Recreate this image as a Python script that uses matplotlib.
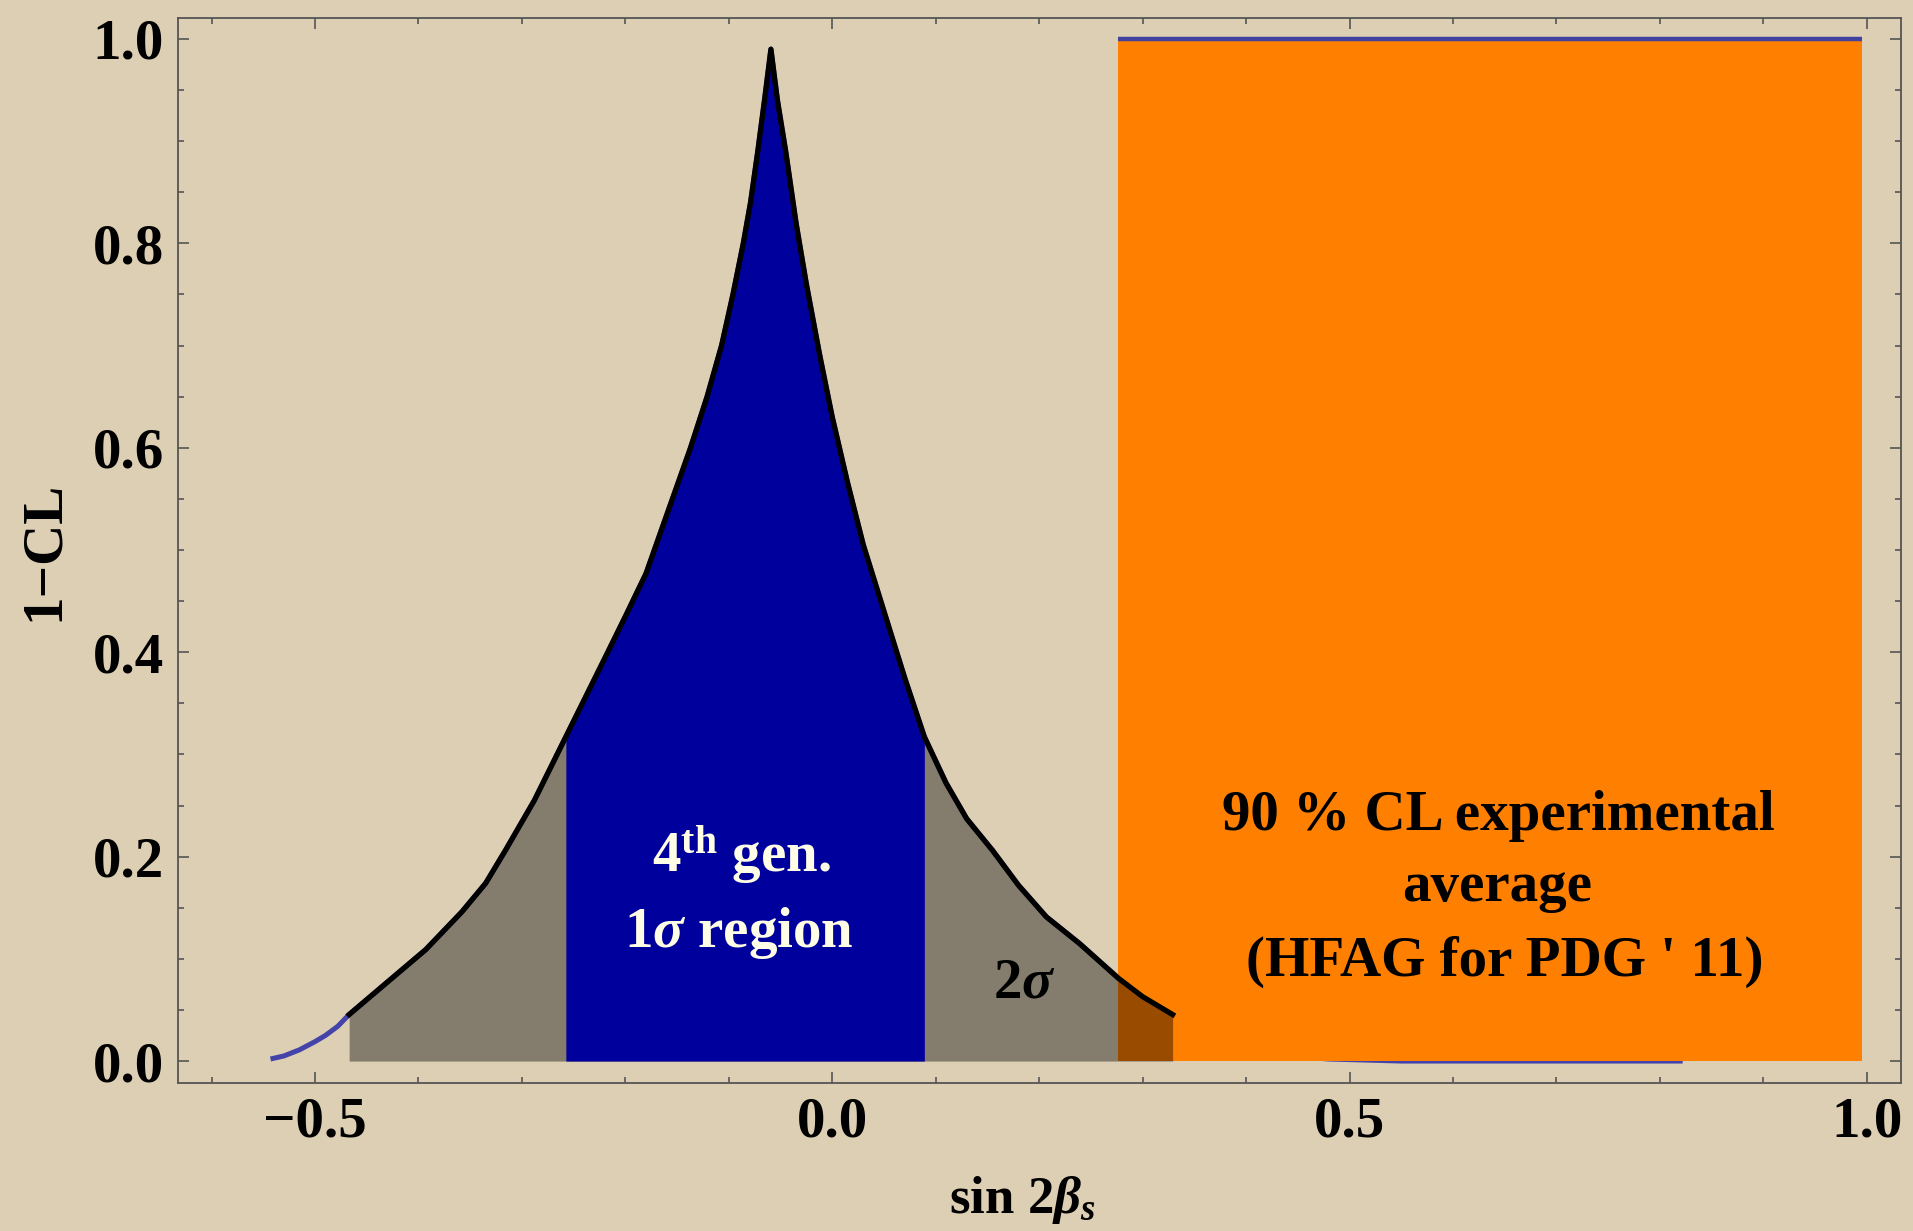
import matplotlib.pyplot as plt
from matplotlib.ticker import MultipleLocator
import numpy as np

# %% Données : profil 1-CL en fonction de sin(2 beta_s)
x_profil = [-0.543, -0.53, -0.515, -0.50, -0.49, -0.478, -0.467, -0.428, -0.393, -0.358,
            -0.335, -0.316, -0.288, -0.2575, -0.217, -0.20, -0.18, -0.158, -0.137, -0.121,
            -0.107, -0.096, -0.086, -0.079, -0.072, -0.0655, -0.0593,
            -0.053, -0.045, -0.035, -0.025, -0.012, 0.0, 0.015, 0.03, 0.05, 0.07,
            0.089, 0.11, 0.13, 0.155, 0.18, 0.207, 0.239, 0.2766, 0.30, 0.329,
            0.36, 0.40, 0.44, 0.48, 0.55, 0.822]
y_profil = [0.002, 0.005, 0.011, 0.019, 0.025, 0.034, 0.0455, 0.079, 0.109, 0.146,
            0.174, 0.206, 0.255, 0.3173, 0.40, 0.435, 0.477, 0.54, 0.60, 0.65,
            0.70, 0.75, 0.80, 0.84, 0.89, 0.94, 0.99,
            0.94, 0.89, 0.82, 0.76, 0.69, 0.63, 0.565, 0.505, 0.44, 0.375,
            0.3173, 0.272, 0.237, 0.206, 0.172, 0.141, 0.115, 0.081, 0.063, 0.0455,
            0.028, 0.013, 0.005, 0.002, 0.0, 0.0]

# bornes des régions 1 sigma et 2 sigma
borne_1sig = [-0.2575, 0.089]
borne_2sig = [-0.467, 0.329]

# moyenne expérimentale à 90 % CL (HFAG)
x_exp = [0.2766, 0.995]
y_exp = [1.0, 1.0]

x_ticks = [-0.5, 0.0, 0.5, 1.0]
x_labels = ['\u22120.5', '0.0', '0.5', '1.0']
y_ticks = [0.0, 0.2, 0.4, 0.6, 0.8, 1.0]
y_labels = ['0.0', '0.2', '0.4', '0.6', '0.8', '1.0']

# %% Style
fond = '#ddcfb4'
plt.rcParams['font.family'] = 'Liberation Serif'
plt.rcParams['font.weight'] = 'bold'
plt.rcParams['mathtext.fontset'] = 'custom'
plt.rcParams['mathtext.rm'] = 'Liberation Serif:bold'
plt.rcParams['mathtext.bf'] = 'Liberation Serif:bold'
plt.rcParams['mathtext.it'] = 'Liberation Serif:bold:italic'

x = np.array(x_profil)
y = np.array(y_profil)

fig = plt.figure(figsize=(19.13, 12.31), dpi=100, facecolor=fond)
ax = fig.add_axes([0.0930, 0.1202, 0.9007, 0.8652])
ax.set_facecolor(fond)

# courbe complète (bleue) sous la bande orange
ax.plot(x, y, color='#4343aa', linewidth=3.6, zorder=1, solid_capstyle='butt', solid_joinstyle='round')

# bande orange : moyenne expérimentale
ax.fill_between(x_exp, 0, y_exp, color='#ff8000', linewidth=0, zorder=2)
ax.plot(x_exp, y_exp, color='#41419f', linewidth=3.2, zorder=4, solid_capstyle='butt')

# région 2 sigma (gris transparent) puis 1 sigma (bleu)
m2 = (x >= borne_2sig[0]) & (x <= borne_2sig[1])
ax.fill_between(x[m2], 0, y[m2], color='black', alpha=0.4, linewidth=0, zorder=3)
m1 = (x >= borne_1sig[0]) & (x <= borne_1sig[1])
ax.fill_between(x[m1], 0, y[m1], color='#00009c', linewidth=0, zorder=3)
ax.plot(x[m2], y[m2], color='black', linewidth=3.8, zorder=5, solid_joinstyle='round')

# textes
kw_txt = dict(fontsize=41, fontweight='bold', ha='center', va='baseline', zorder=6)
ax.text(-0.088, 0.185, r'4$^{\mathbf{th}}$ gen.', color='#fffde6', **kw_txt)
ax.text(-0.090, 0.112, r'$\mathbf{1}\sigma$ region', color='#fffde6', **kw_txt)
ax.text(0.186, 0.062, r'$\mathbf{2}\sigma$', color='black', **kw_txt)
ax.text(0.644, 0.226, '90 % CL experimental', color='black', **kw_txt)
ax.text(0.643, 0.157, 'average', color='black', **kw_txt)
ax.text(0.650, 0.083, "(HFAG for PDG ' 11)", color='black', **kw_txt)

# axes
ax.set_xlim(-0.6325, 1.033)
ax.set_ylim(-0.0215, 1.0205)
ax.set_xticks(x_ticks)
ax.set_xticklabels(x_labels)
ax.set_yticks(y_ticks)
ax.set_yticklabels(y_labels)
ax.xaxis.set_minor_locator(MultipleLocator(0.1))
ax.yaxis.set_minor_locator(MultipleLocator(0.05))
ax.tick_params(which='both', direction='in', top=True, right=True, color='#555555', width=1.2)
ax.tick_params(which='major', length=8, labelsize=41, pad=10)
ax.tick_params(which='minor', length=4.5)
for s in ax.spines.values():
    s.set_color('#555555')
    s.set_linewidth(1.3)

ax.set_xlabel(r'$\mathbf{sin\ 2}\beta_s$', fontsize=38)
ax.xaxis.set_label_coords(0.49, -0.085)
ax.set_ylabel('1\u2212CL', fontsize=41, fontweight='bold')
ax.yaxis.set_label_coords(-0.0625, 0.5)

fig.savefig('out.png', dpi=100, facecolor=fond)
